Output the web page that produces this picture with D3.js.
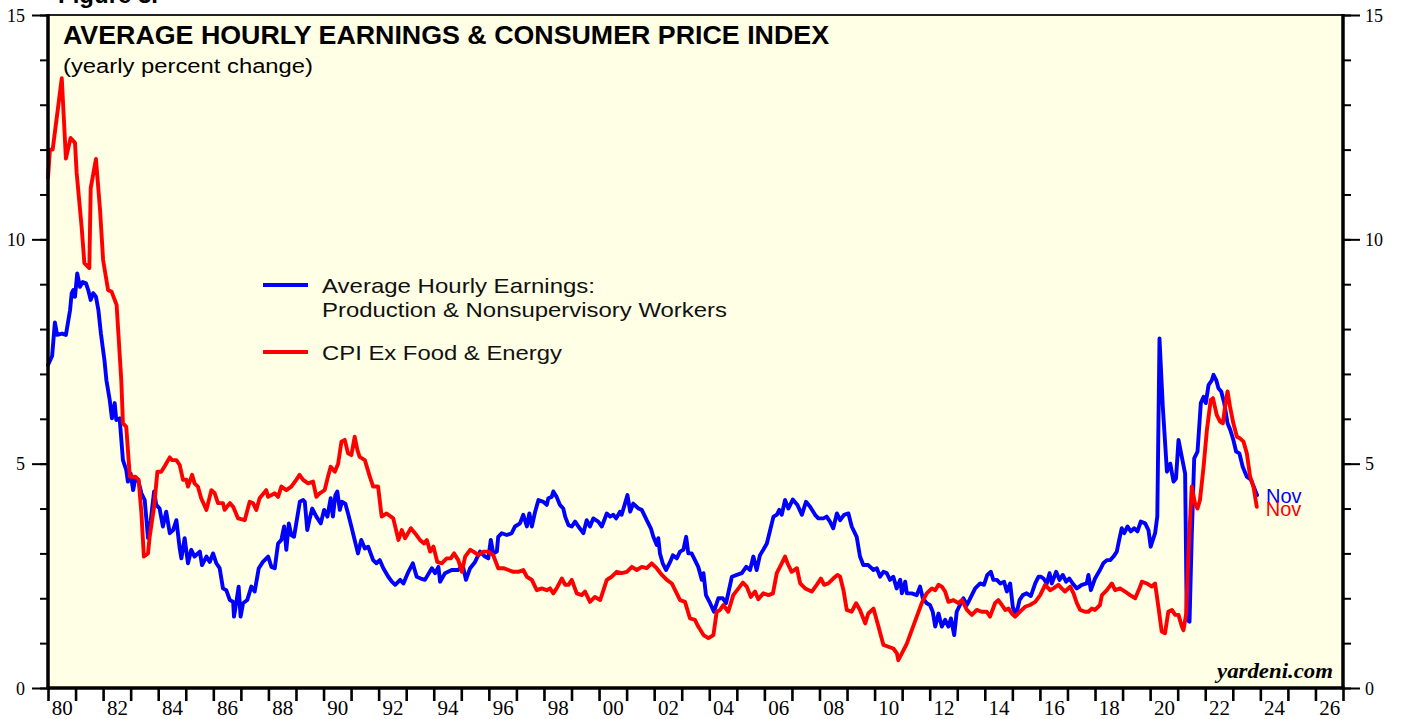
<!DOCTYPE html>
<html>
<head>
<meta charset="utf-8">
<script src="https://cdn.jsdelivr.net/npm/d3@7/dist/d3.min.js"></script>
<style>
  html, body { margin: 0; padding: 0; background: #ffffff; }
  svg { display: block; }
</style>
</head>
<body>
<svg id="chart" width="1403" height="719"></svg>
<script>
// ---------------- DATA ----------------
// [decimal year, yearly % change]
const aheProduction = [
  [1980.00,7.2],[1980.15,7.4],[1980.25,8.15],[1980.33,7.87],[1980.51,7.9],[1980.65,7.87],
  [1980.80,8.42],[1980.86,8.8],[1980.92,8.87],[1980.98,8.72],[1981.06,9.24],[1981.16,8.94],
  [1981.26,9.05],[1981.38,9.02],[1981.46,8.87],[1981.55,8.65],[1981.64,8.8],[1981.74,8.72],
  [1981.83,8.42],[1981.92,7.9],[1982.00,7.53],[1982.05,7.3],[1982.12,6.86],[1982.24,6.42],
  [1982.32,6.01],[1982.42,6.35],[1982.48,5.97],[1982.60,6.01],[1982.72,5.08],[1982.84,4.86],
  [1982.90,4.6],[1983.00,4.78],[1983.09,4.41],[1983.17,4.67],[1983.27,4.64],[1983.39,4.34],
  [1983.51,4.19],[1983.63,3.34],[1983.73,3.74],[1983.85,4.38],[1983.93,4.08],[1984.05,4.0],
  [1984.17,3.6],[1984.29,3.93],[1984.42,3.45],[1984.54,3.52],[1984.66,3.74],[1984.78,3.11],
  [1984.84,2.89],[1984.96,3.34],[1985.08,2.78],[1985.20,3.08],[1985.32,2.93],[1985.51,3.04],
  [1985.59,2.74],[1985.75,2.93],[1985.87,2.81],[1985.99,3.0],[1986.11,2.78],[1986.23,2.67],
  [1986.35,2.22],[1986.47,2.18],[1986.60,1.96],[1986.72,1.92],[1986.75,1.59],[1986.83,1.89],
  [1986.92,2.26],[1986.99,1.59],[1987.08,1.89],[1987.23,1.96],[1987.38,2.26],[1987.50,2.15],
  [1987.65,2.67],[1987.80,2.81],[1987.99,2.93],[1988.11,2.7],[1988.23,2.67],[1988.35,3.22],
  [1988.47,3.3],[1988.57,3.6],[1988.65,3.08],[1988.74,3.67],[1988.83,3.41],[1988.93,3.37],
  [1989.01,3.67],[1989.14,4.15],[1989.26,4.19],[1989.32,4.15],[1989.41,3.52],[1989.50,3.78],
  [1989.59,4.0],[1989.74,3.82],[1989.90,3.67],[1990.02,3.97],[1990.14,3.82],[1990.26,4.23],
  [1990.34,3.82],[1990.43,4.3],[1990.50,4.38],[1990.59,3.97],[1990.67,4.15],[1990.79,4.11],
  [1990.89,3.89],[1991.01,3.6],[1991.13,3.3],[1991.25,3.0],[1991.37,3.3],[1991.50,3.11],
  [1991.62,3.15],[1991.80,2.85],[1991.92,2.78],[1992.04,2.85],[1992.17,2.67],[1992.35,2.48],
  [1992.48,2.37],[1992.60,2.3],[1992.78,2.41],[1992.90,2.33],[1993.08,2.59],[1993.24,2.78],
  [1993.38,2.48],[1993.53,2.44],[1993.68,2.41],[1993.93,2.67],[1994.05,2.56],[1994.17,2.7],
  [1994.23,2.37],[1994.41,2.56],[1994.65,2.63],[1994.89,2.63],[1995.05,2.74],[1995.17,2.41],
  [1995.32,2.67],[1995.50,2.81],[1995.68,3.04],[1995.86,2.93],[1995.98,2.89],[1996.07,3.3],
  [1996.16,3.0],[1996.29,3.04],[1996.34,3.37],[1996.47,3.45],[1996.65,3.41],[1996.83,3.45],
  [1996.95,3.6],[1997.13,3.67],[1997.25,3.86],[1997.38,3.6],[1997.47,3.89],[1997.56,3.6],
  [1997.68,3.93],[1997.80,4.19],[1997.98,4.15],[1998.10,4.08],[1998.16,4.23],[1998.28,4.26],
  [1998.34,4.38],[1998.46,4.26],[1998.58,4.08],[1998.70,4.0],[1998.77,3.82],[1998.89,3.63],
  [1999.01,3.6],[1999.13,3.71],[1999.25,3.6],[1999.43,3.45],[1999.55,3.74],[1999.67,3.6],
  [1999.79,3.78],[1999.97,3.71],[2000.10,3.6],[2000.28,3.89],[2000.40,3.82],[2000.52,3.86],
  [2000.62,3.78],[2000.76,3.93],[2000.82,3.86],[2000.94,4.11],[2001.03,4.3],[2001.13,3.93],
  [2001.24,4.11],[2001.43,4.0],[2001.55,3.97],[2001.73,3.74],[2001.88,3.56],[2001.97,3.37],
  [2002.09,3.19],[2002.15,3.34],[2002.21,3.0],[2002.31,2.78],[2002.43,2.63],[2002.58,2.81],
  [2002.68,2.96],[2002.82,2.89],[2002.94,3.04],[2003.06,3.08],[2003.16,3.37],[2003.24,3.0],
  [2003.36,3.0],[2003.48,2.85],[2003.60,2.7],[2003.73,2.41],[2003.79,2.56],[2003.88,2.07],
  [2004.03,1.89],[2004.17,1.7],[2004.33,2.0],[2004.49,2.0],[2004.61,1.89],[2004.82,2.48],
  [2005.00,2.52],[2005.18,2.56],[2005.34,2.7],[2005.48,2.63],[2005.60,2.93],[2005.72,2.63],
  [2005.84,2.96],[2005.96,3.08],[2006.09,3.22],[2006.21,3.52],[2006.33,3.82],[2006.45,3.86],
  [2006.54,3.97],[2006.63,3.86],[2006.75,4.19],[2006.87,4.0],[2007.03,4.2],[2007.20,4.08],
  [2007.36,3.86],[2007.51,4.15],[2007.66,4.04],[2007.84,3.86],[2007.96,3.78],[2008.14,3.78],
  [2008.26,3.82],[2008.38,3.71],[2008.50,3.56],[2008.63,3.89],[2008.75,3.74],[2008.89,3.86],
  [2009.05,3.89],[2009.17,3.6],[2009.35,3.37],[2009.47,2.93],[2009.59,2.74],[2009.77,2.74],
  [2009.96,2.63],[2010.08,2.67],[2010.20,2.48],[2010.32,2.59],[2010.44,2.56],[2010.56,2.41],
  [2010.68,2.48],[2010.80,2.22],[2010.93,2.41],[2010.99,2.11],[2011.11,2.37],[2011.17,2.11],
  [2011.35,2.11],[2011.53,2.07],[2011.65,2.26],[2011.75,2.0],[2011.89,1.89],[2012.01,1.85],
  [2012.11,1.7],[2012.20,1.37],[2012.32,1.66],[2012.44,1.37],[2012.56,1.52],[2012.68,1.37],
  [2012.77,1.55],[2012.89,1.18],[2012.98,1.7],[2013.13,1.89],[2013.22,2.0],[2013.35,1.85],
  [2013.47,2.0],[2013.65,2.22],[2013.83,2.33],[2013.97,2.3],[2014.09,2.52],[2014.22,2.59],
  [2014.31,2.41],[2014.44,2.41],[2014.56,2.33],[2014.70,2.37],[2014.80,2.15],[2014.92,2.33],
  [2015.02,1.79],[2015.14,1.63],[2015.26,1.96],[2015.38,2.07],[2015.52,2.11],[2015.67,2.05],
  [2015.83,2.33],[2015.95,2.48],[2016.04,2.48],[2016.13,2.44],[2016.25,2.33],[2016.35,2.56],
  [2016.43,2.33],[2016.59,2.59],[2016.71,2.41],[2016.83,2.52],[2016.95,2.37],[2017.07,2.44],
  [2017.19,2.33],[2017.34,2.22],[2017.52,2.3],[2017.70,2.33],[2017.76,2.52],[2017.85,2.18],
  [2018.00,2.44],[2018.18,2.63],[2018.30,2.78],[2018.43,2.85],[2018.55,2.85],[2018.67,2.93],
  [2018.79,3.04],[2018.89,3.34],[2018.97,3.56],[2019.06,3.45],[2019.18,3.6],[2019.30,3.49],
  [2019.42,3.56],[2019.54,3.49],[2019.66,3.71],[2019.82,3.67],[2019.94,3.52],[2020.02,3.15],
  [2020.18,3.45],[2020.26,3.82],[2020.34,7.79],[2020.46,6.27],[2020.61,4.82],[2020.73,5.0],
  [2020.85,4.6],[2020.94,4.67],[2021.03,5.53],[2021.15,5.15],[2021.27,4.78],[2021.33,1.52],
  [2021.43,1.48],[2021.51,3.37],[2021.60,5.12],[2021.72,5.27],[2021.84,6.35],[2021.94,6.49],
  [2022.02,6.35],[2022.12,6.75],[2022.24,6.86],[2022.30,6.98],[2022.40,6.86],[2022.48,6.68],
  [2022.58,6.61],[2022.69,6.35],[2022.81,5.9],[2022.91,5.75],[2023.02,5.53],[2023.12,5.27],
  [2023.24,5.23],[2023.36,4.93],[2023.51,4.71],[2023.66,4.64],[2023.81,4.41],[2023.88,4.3]
];

const cpiCore = [
  [1980.00,11.37],[1980.07,12.0],[1980.17,12.0],[1980.50,13.59],[1980.65,11.8],[1980.82,12.26],
  [1980.98,12.15],[1981.04,11.48],[1981.22,10.28],[1981.32,9.47],[1981.50,9.36],[1981.55,11.14],
  [1981.74,11.79],[1981.89,10.65],[1982.00,9.54],[1982.18,8.87],[1982.31,8.83],[1982.49,8.54],
  [1982.66,6.86],[1982.72,5.9],[1982.84,5.82],[1982.97,4.71],[1983.17,4.71],[1983.29,4.64],
  [1983.39,3.9],[1983.48,2.93],[1983.63,3.0],[1983.69,3.37],[1983.85,4.04],[1983.97,4.82],
  [1984.11,4.82],[1984.24,4.95],[1984.42,5.14],[1984.50,5.08],[1984.66,5.08],[1984.78,4.97],
  [1984.90,4.64],[1985.02,4.64],[1985.08,4.49],[1985.23,4.75],[1985.32,4.56],[1985.44,4.49],
  [1985.56,4.23],[1985.75,3.97],[1985.93,4.41],[1986.05,4.34],[1986.17,4.12],[1986.35,4.12],
  [1986.41,3.97],[1986.60,4.12],[1986.72,4.04],[1986.90,3.78],[1987.14,3.74],[1987.32,4.15],
  [1987.44,4.12],[1987.56,3.97],[1987.68,4.23],[1987.92,4.41],[1987.99,4.26],[1988.23,4.34],
  [1988.35,4.26],[1988.47,4.49],[1988.65,4.41],[1988.83,4.49],[1989.01,4.64],[1989.13,4.75],
  [1989.26,4.64],[1989.44,4.56],[1989.62,4.6],[1989.74,4.26],[1989.86,4.34],[1990.04,4.41],
  [1990.16,4.71],[1990.26,4.93],[1990.41,4.82],[1990.53,5.0],[1990.65,5.49],[1990.77,5.53],
  [1990.89,5.23],[1991.01,5.19],[1991.13,5.6],[1991.23,5.3],[1991.31,5.15],[1991.50,5.08],
  [1991.68,4.71],[1991.80,4.49],[1991.98,4.49],[1992.11,3.82],[1992.29,3.89],[1992.53,3.78],
  [1992.72,3.3],[1992.84,3.52],[1992.96,3.34],[1993.17,3.56],[1993.32,3.45],[1993.50,3.3],
  [1993.65,3.22],[1993.75,3.3],[1993.87,3.04],[1993.99,3.15],[1994.13,2.81],[1994.29,2.78],
  [1994.47,2.89],[1994.62,2.89],[1994.74,3.0],[1994.89,2.85],[1995.02,2.59],[1995.14,2.93],
  [1995.32,3.08],[1995.44,3.04],[1995.62,2.96],[1995.80,3.04],[1995.98,3.04],[1996.16,2.96],
  [1996.34,2.67],[1996.53,2.67],[1996.71,2.63],[1996.89,2.59],[1997.07,2.59],[1997.25,2.63],
  [1997.38,2.48],[1997.56,2.41],[1997.74,2.18],[1997.92,2.22],[1998.10,2.18],[1998.22,2.22],
  [1998.34,2.11],[1998.46,2.22],[1998.65,2.44],[1998.77,2.3],[1998.89,2.3],[1999.01,2.41],
  [1999.19,2.11],[1999.37,2.07],[1999.49,2.15],[1999.67,1.92],[1999.85,2.03],[2000.04,1.96],
  [2000.16,2.18],[2000.28,2.41],[2000.46,2.48],[2000.64,2.59],[2000.82,2.56],[2001.01,2.59],
  [2001.19,2.7],[2001.37,2.63],[2001.55,2.7],[2001.73,2.67],[2001.91,2.78],[2002.09,2.67],
  [2002.28,2.52],[2002.46,2.41],[2002.64,2.33],[2002.76,2.18],[2002.94,1.96],[2003.12,1.92],
  [2003.30,1.55],[2003.48,1.52],[2003.60,1.37],[2003.79,1.18],[2003.97,1.11],[2004.15,1.18],
  [2004.27,1.7],[2004.39,1.74],[2004.51,1.85],[2004.69,1.7],[2004.87,2.07],[2005.06,2.22],
  [2005.22,2.35],[2005.36,2.26],[2005.51,2.03],[2005.66,2.15],[2005.78,1.98],[2005.96,2.11],
  [2006.15,2.07],[2006.31,2.11],[2006.45,2.56],[2006.63,2.78],[2006.75,2.93],[2006.84,2.78],
  [2006.99,2.59],[2007.18,2.67],[2007.30,2.33],[2007.48,2.22],[2007.72,2.15],[2007.90,2.3],
  [2008.05,2.44],[2008.17,2.3],[2008.32,2.33],[2008.50,2.44],[2008.65,2.52],[2008.75,2.48],
  [2008.87,2.18],[2008.99,1.74],[2009.17,1.7],[2009.33,1.89],[2009.47,1.74],[2009.66,1.44],
  [2009.77,1.66],[2009.96,1.77],[2010.14,1.37],[2010.32,0.96],[2010.50,0.92],[2010.68,0.88],
  [2010.81,0.77],[2010.86,0.62],[2010.99,0.77],[2011.17,0.99],[2011.35,1.29],[2011.53,1.59],
  [2011.71,1.89],[2011.89,2.11],[2012.08,2.22],[2012.20,2.18],[2012.32,2.3],[2012.44,2.26],
  [2012.56,2.15],[2012.68,1.92],[2012.86,1.96],[2013.04,1.89],[2013.17,1.96],[2013.35,1.74],
  [2013.53,1.63],[2013.71,1.74],[2013.89,1.7],[2014.07,1.7],[2014.19,1.59],[2014.37,1.89],
  [2014.49,1.96],[2014.62,1.85],[2014.74,1.74],[2014.86,1.77],[2014.98,1.66],[2015.10,1.59],
  [2015.28,1.7],[2015.46,1.81],[2015.64,1.85],[2015.83,1.92],[2016.01,2.07],[2016.19,2.3],
  [2016.37,2.18],[2016.49,2.22],[2016.67,2.3],[2016.79,2.22],[2016.91,2.15],[2017.10,2.26],
  [2017.22,2.11],[2017.34,1.89],[2017.46,1.74],[2017.64,1.7],[2017.76,1.7],[2017.88,1.77],
  [2018.00,1.74],[2018.18,1.85],[2018.25,2.07],[2018.43,2.18],[2018.61,2.33],[2018.73,2.18],
  [2018.91,2.22],[2019.09,2.15],[2019.27,2.07],[2019.46,2.0],[2019.64,2.26],[2019.70,2.37],
  [2019.88,2.33],[2020.06,2.26],[2020.18,2.33],[2020.30,1.81],[2020.42,1.26],[2020.54,1.22],
  [2020.66,1.7],[2020.79,1.74],[2020.91,1.63],[2021.03,1.63],[2021.15,1.37],[2021.21,1.29],
  [2021.31,1.66],[2021.39,3.0],[2021.51,4.49],[2021.63,4.11],[2021.72,4.0],[2021.81,4.19],
  [2021.94,4.93],[2022.06,5.75],[2022.20,6.42],[2022.28,6.46],[2022.42,6.08],[2022.54,5.94],
  [2022.64,5.9],[2022.72,6.27],[2022.81,6.61],[2022.90,6.27],[2023.02,5.9],[2023.15,5.6],
  [2023.27,5.56],[2023.39,5.49],[2023.51,5.23],[2023.63,4.71],[2023.75,4.49],[2023.87,4.04]
];

const yearTicks = d3.range(1980, 2028);               // year boundaries
const yearLabels = d3.range(1980, 2027, 2);           // labelled years
const yMajor = [0, 5, 10, 15];
const yMinor = d3.range(0, 16, 1);

const seriesNames = ["Average Hourly Earnings:", "Production & Nonsupervisory Workers", "CPI Ex Food & Energy"];
const titleText = "AVERAGE HOURLY EARNINGS & CONSUMER PRICE INDEX";
const subtitleText = "(yearly percent change)";
const endLabel = "Nov";

// ---------------- DRAWING ----------------
const svg = d3.select("#chart");
const L = 48, R = 1343, T = 15, B = 688;
const sans = "'Liberation Sans', Arial, Helvetica, sans-serif";
const serif = "'Liberation Serif', 'Times New Roman', Times, serif";

const x = d3.scaleLinear().domain([1980, 2027]).range([L, R]);
const y = d3.scaleLinear().domain([0, 15]).range([B, T]);

// Figure caption cut off at the top (as in the reference)
svg.append("text").attr("x", 58).attr("y", 3)
  .attr("font-family", sans).attr("font-weight", "bold").attr("font-size", 24)
  .text("Figure 3.");

// plot background
svg.append("rect").attr("x", L).attr("y", T).attr("width", R - L).attr("height", B - T)
  .attr("fill", "#ffffe6");

// Title
svg.append("text").attr("x", 63).attr("y", 44)
  .attr("font-family", sans).attr("font-weight", "bold").attr("font-size", 25)
  .attr("textLength", 766).attr("lengthAdjust", "spacingAndGlyphs")
  .text(titleText);
svg.append("text").attr("x", 63).attr("y", 73)
  .attr("font-family", sans).attr("font-size", 20)
  .attr("textLength", 250).attr("lengthAdjust", "spacingAndGlyphs")
  .text(subtitleText);

// Lines
const line = d3.line().x(d => x(d[0])).y(d => y(d[1]));
svg.append("path").datum(aheProduction).attr("d", line)
  .attr("fill", "none").attr("stroke", "#0000ff").attr("stroke-width", 3.9)
  .attr("stroke-linejoin", "round").attr("stroke-linecap", "round");
svg.append("path").datum(cpiCore).attr("d", line)
  .attr("fill", "none").attr("stroke", "#ff0000").attr("stroke-width", 3.9)
  .attr("stroke-linejoin", "round").attr("stroke-linecap", "round");

// End labels
const lastA = aheProduction[aheProduction.length - 1];
const lastC = cpiCore[cpiCore.length - 1];
svg.append("text").attr("x", x(lastA[0]) + 9).attr("y", 503)
  .attr("font-family", sans).attr("font-size", 20).attr("fill", "#0000ff").text(endLabel);
svg.append("text").attr("x", x(lastC[0]) + 9).attr("y", 516)
  .attr("font-family", sans).attr("font-size", 20).attr("fill", "#ff0000").text(endLabel);

// Legend
const lg = svg.append("g");
lg.append("line").attr("x1", 263).attr("x2", 308).attr("y1", 285).attr("y2", 285)
  .attr("stroke", "#0000ff").attr("stroke-width", 3.8);
lg.append("line").attr("x1", 263).attr("x2", 308).attr("y1", 352).attr("y2", 352)
  .attr("stroke", "#ff0000").attr("stroke-width", 3.8);
const legTexts = [
  { t: seriesNames[0], y: 293, w: 273 },
  { t: seriesNames[1], y: 317, w: 405 },
  { t: seriesNames[2], y: 360, w: 240 }
];
legTexts.forEach(d => {
  lg.append("text").attr("x", 322).attr("y", d.y)
    .attr("font-family", sans).attr("font-size", 21).attr("fill", "#111")
    .attr("textLength", d.w).attr("lengthAdjust", "spacingAndGlyphs").text(d.t);
});

// yardeni.com
svg.append("text").attr("x", 1333).attr("y", 678).attr("text-anchor", "end")
  .attr("font-family", serif).attr("font-weight", "bold").attr("font-style", "italic")
  .attr("font-size", 20).attr("textLength", 116).attr("lengthAdjust", "spacingAndGlyphs")
  .text("yardeni.com");

// Axes
function styleAxis(g) {
  g.select(".domain").remove();
  g.selectAll(".tick line").attr("stroke", "#000");
}

// bottom year ticks
svg.append("g").attr("transform", `translate(0,${B})`)
  .call(d3.axisBottom(x).tickValues(yearTicks).tickSize(13).tickFormat(""))
  .call(styleAxis)
  .call(g => g.selectAll(".tick line").attr("stroke-width", 2.6));

// bottom labels at mid-year
svg.append("g").attr("transform", `translate(0,${B})`)
  .call(d3.axisBottom(x).tickValues(yearLabels.map(v => v + 0.5)).tickSize(0)
    .tickFormat(v => String(Math.floor(v) % 100).padStart(2, "0")))
  .call(styleAxis)
  .call(g => g.selectAll(".tick text").attr("y", 27).attr("dy", 0)
    .attr("font-family", serif).attr("font-size", 20).attr("fill", "#000")
    .attr("textLength", 21).attr("lengthAdjust", "spacingAndGlyphs"));

// left axis
svg.append("g").attr("transform", `translate(${L},0)`)
  .call(d3.axisLeft(y).tickValues(yMinor).tickSize(8).tickFormat(""))
  .call(styleAxis).call(g => g.selectAll(".tick line").attr("stroke-width", 2));
svg.append("g").attr("transform", `translate(${L},0)`)
  .call(d3.axisLeft(y).tickValues(yMajor).tickSize(16).tickPadding(7).tickFormat(d3.format("d")))
  .call(styleAxis)
  .call(g => g.selectAll(".tick line").attr("stroke-width", 2))
  .call(g => g.selectAll(".tick text").attr("font-family", serif).attr("font-size", 18)
    .attr("fill", "#000").attr("dy", "0.34em"));

// right axis
svg.append("g").attr("transform", `translate(${R},0)`)
  .call(d3.axisRight(y).tickValues(yMinor).tickSize(8).tickFormat(""))
  .call(styleAxis).call(g => g.selectAll(".tick line").attr("stroke-width", 2));
svg.append("g").attr("transform", `translate(${R},0)`)
  .call(d3.axisRight(y).tickValues(yMajor).tickSize(17).tickPadding(5).tickFormat(d3.format("d")))
  .call(styleAxis)
  .call(g => g.selectAll(".tick line").attr("stroke-width", 2))
  .call(g => g.selectAll(".tick text").attr("font-family", serif).attr("font-size", 18)
    .attr("fill", "#000").attr("dy", "0.34em"));

// frame
svg.append("line").attr("x1", L).attr("x2", R).attr("y1", T).attr("y2", T)
  .attr("stroke", "#222").attr("stroke-width", 2);
svg.append("line").attr("x1", L).attr("x2", L).attr("y1", T - 1).attr("y2", B + 1.5)
  .attr("stroke", "#000").attr("stroke-width", 3.5);
svg.append("line").attr("x1", R).attr("x2", R).attr("y1", T - 1).attr("y2", B + 1.5)
  .attr("stroke", "#000").attr("stroke-width", 3.5);
svg.append("line").attr("x1", L - 1.5).attr("x2", R + 1.5).attr("y1", B).attr("y2", B)
  .attr("stroke", "#000").attr("stroke-width", 3.5);
</script>
</body>
</html>
